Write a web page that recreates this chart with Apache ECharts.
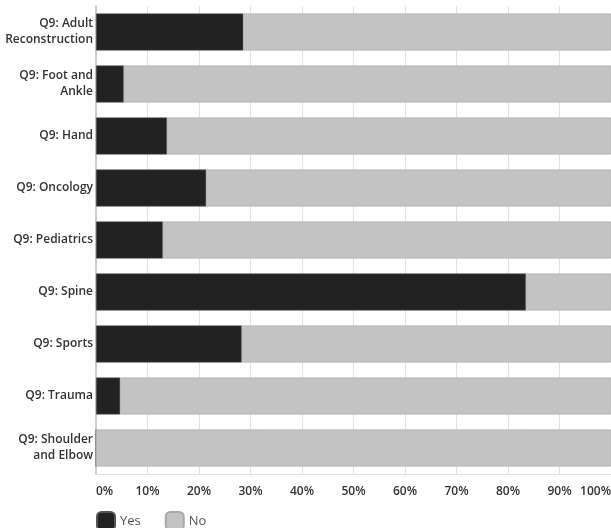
<!DOCTYPE html>
<html>
<head>
<meta charset="utf-8">
<script src="https://cdn.jsdelivr.net/npm/echarts@6/dist/echarts.min.js"></script>
<style>
  html, body { margin: 0; padding: 0; background: #fff; overflow: hidden; }
  #chart { width: 611px; height: 528px; }
</style>
</head>
<body>
<div id="chart"></div>
<script>
// Share of respondents answering Yes / No per subspecialty (percent)
const categories = [
  'Q9: Adult\nReconstruction',
  'Q9: Foot and\nAnkle',
  'Q9: Hand',
  'Q9: Oncology',
  'Q9: Pediatrics',
  'Q9: Spine',
  'Q9: Sports',
  'Q9: Trauma',
  'Q9: Shoulder\nand Elbow'
];
const yesValues = [28.6, 5.4, 13.8, 21.4, 13.0, 83.5, 28.3, 4.7, 0];
const noValues = [71.4, 94.6, 86.2, 78.6, 87.0, 16.5, 71.7, 95.3, 100];
const tickLabels = ['0%', '10%', '20%', '30%', '40%', '50%', '60%', '70%', '80%', '90%', '100%'];

const FONT = '"Open Sans", "Noto Sans", sans-serif';

const chart = echarts.init(document.getElementById('chart'), null, { renderer: 'canvas' });
chart.setOption({
  animation: false,
  backgroundColor: '#ffffff',
  textStyle: { fontFamily: FONT },
  grid: { left: 96, right: 0, top: 6, height: 468, outerBoundsMode: 'none', containLabel: false },
  legend: {
    left: 91,
    top: 506,
    itemWidth: 18,
    itemHeight: 18,
    itemGap: 24,
    icon: 'roundRect',
    textStyle: { fontSize: 13, color: '#555', fontFamily: FONT },
    data: ['Yes', 'No']
  },
  xAxis: {
    type: 'value',
    min: 0,
    max: 100,
    interval: 10,
    axisLine: { show: true, lineStyle: { color: '#e2e2e2', width: 1 } },
    axisTick: { show: false },
    splitLine: { show: true, lineStyle: { color: '#e2e2e2', width: 1 } },
    axisLabel: {
      margin: 12,
      fontSize: 12,
      fontWeight: 600,
      color: '#333',
      alignMinLabel: 'left',
      alignMaxLabel: 'right',
      formatter: v => tickLabels[Math.round(v / 10)]
    }
  },
  yAxis: {
    type: 'category',
    inverse: true,
    data: categories,
    axisLine: { show: true, lineStyle: { color: '#cfcfcf', width: 2 } },
    axisTick: { show: false },
    axisLabel: {
      margin: 3,
      fontSize: 12,
      fontWeight: 600,
      color: '#333',
      lineHeight: 16,
      align: 'right'
    }
  },
  series: [
    {
      name: 'Yes',
      type: 'bar',
      stack: 'total',
      barWidth: 37,
      data: yesValues,
      itemStyle: { color: '#222222', borderColor: '#555555', borderWidth: 0.6 }
    },
    {
      name: 'No',
      type: 'bar',
      stack: 'total',
      barWidth: 37,
      data: noValues,
      itemStyle: { color: '#c3c3c3', borderColor: '#a9a9a9', borderWidth: 0.6 }
    }
  ]
});
</script>
</body>
</html>
